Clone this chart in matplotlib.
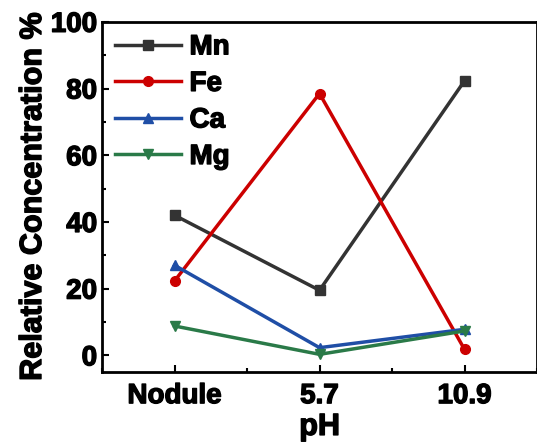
import matplotlib
matplotlib.use('Agg')
import matplotlib.pyplot as plt
import matplotlib.patheffects as pe
from matplotlib.ticker import AutoMinorLocator

plt.rcParams['font.family'] = ['Liberation Sans', 'DejaVu Sans']
plt.rcParams['font.weight'] = 'bold'

# data
categories = ["Nodule", "5.7", "10.9"]
mn = [42, 19.5, 82.3]
fe = [22.3, 78.5, 1.8]
ca = [27, 2.3, 7.8]
mg = [8.8, 0.3, 7.3]

series = [
    ("Mn", mn, '#333333', 's'),
    ("Fe", fe, '#cc0000', 'o'),
    ("Ca", ca, '#1f4ea6', '^'),
    ("Mg", mg, '#2a7a48', 'v'),
]

heavy = [pe.withStroke(linewidth=1.0, foreground='black')]

fig = plt.figure(figsize=(5.37, 4.45), dpi=100)
ax = fig.add_axes([0.19, 0.164, 0.81, 0.787])

x = list(range(len(categories)))
for name, vals, color, marker in series:
    ax.plot(x, vals, color=color, marker=marker, markersize=7, linewidth=2.5, label=name)

ax.set_xlim(-0.5, 2.5)
ax.set_ylim(-5, 100)
ax.set_xticks(x)
ax.set_xticklabels(categories)
ax.set_yticks([0, 20, 40, 60, 80, 100])
ax.xaxis.set_minor_locator(AutoMinorLocator(2))
ax.yaxis.set_minor_locator(AutoMinorLocator(2))
ax.tick_params(which='both', direction='in', width=1.5, labelsize=20)
ax.tick_params(axis='x', which='major', pad=8)
ax.tick_params(which='major', length=5)
ax.tick_params(which='minor', length=3)
for s in ax.spines.values():
    s.set_linewidth(2)
for t in ax.get_xticklabels() + ax.get_yticklabels():
    t.set_path_effects(heavy)

ax.set_xlabel("pH", fontsize=22, fontweight='bold', labelpad=2, path_effects=heavy)
ax.set_ylabel("Relative Concentration %", fontsize=22, fontweight='bold', labelpad=2,
              path_effects=heavy)

leg = ax.legend(loc='upper left', frameon=False, fontsize=20, handlelength=2.4,
                labelspacing=0.38, borderaxespad=0.15, borderpad=0.3, handletextpad=0.3)
for t in leg.get_texts():
    t.set_path_effects(heavy)

fig.savefig('out.png', dpi=100)
